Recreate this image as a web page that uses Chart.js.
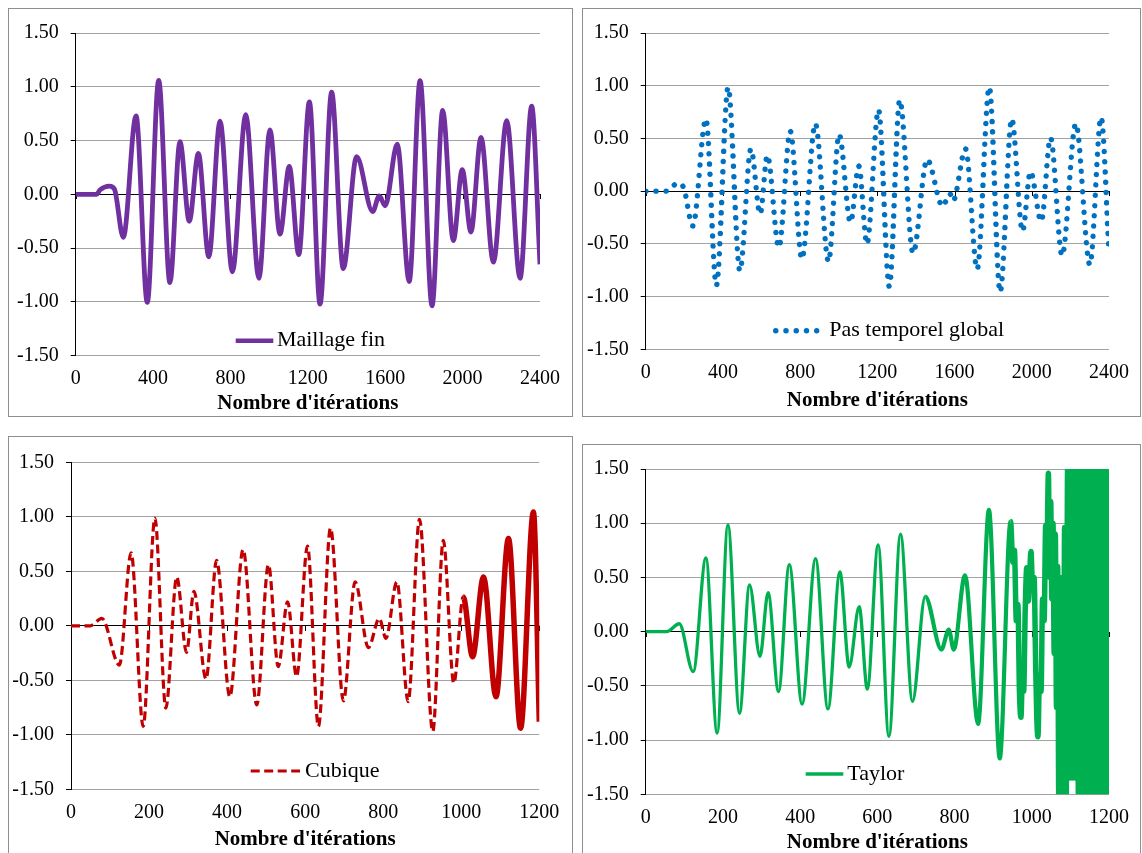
<!DOCTYPE html>
<html>
<head>
<meta charset="utf-8">
<script src="https://cdn.jsdelivr.net/npm/chart.js@4.4.1/dist/chart.umd.min.js"></script>
<style>
  body { margin: 0; background: #fff; width: 1142px; height: 853px; position: relative; overflow: hidden; }
  .panel { position: absolute; border: 1px solid #8e8e8e; box-sizing: border-box; background: #fff; }
  .panel canvas { position: absolute; left: 0; top: 0; }
</style>
</head>
<body>
<div class="panel" style="left:8px;top:8px;width:565px;height:409px"><canvas id="c1"></canvas></div>
<div class="panel" style="left:582px;top:8px;width:559px;height:409px"><canvas id="c2"></canvas></div>
<div class="panel" style="left:8px;top:436px;width:565px;height:420px"><canvas id="c3"></canvas></div>
<div class="panel" style="left:582px;top:444px;width:559px;height:412px"><canvas id="c4"></canvas></div>
<script>
// values (extrema of each curve)
var fineIter = [0, 108, 125, 174, 200, 246, 312, 370, 429, 487, 539, 587, 634, 688, 746, 810, 879, 947, 1004, 1056, 1104, 1153, 1208, 1263, 1323, 1383, 1452, 1535, 1569, 1600, 1662, 1724, 1780, 1842, 1897, 1952, 1998, 2043, 2095, 2159, 2228, 2297, 2357, 2400];
var fineVal = [0, 0, 0.04, 0.077, 0.05, -0.40, 0.73, -1.005, 1.06, -0.82, 0.49, -0.25, 0.38, -0.58, 0.68, -0.72, 0.74, -0.78, 0.60, -0.37, 0.26, -0.56, 0.86, -1.02, 0.95, -0.69, 0.35, -0.16, -0.015, -0.106, 0.466, -0.81, 1.058, -1.036, 0.78, -0.43, 0.23, -0.35, 0.53, -0.63, 0.686, -0.78, 0.82, -0.65];

var stepIter = [0, 106, 138, 168, 197, 244, 312, 366, 427, 488, 545, 593, 630, 690, 749, 809, 879, 947, 1002, 1061, 1104, 1146, 1206, 1262, 1316, 1385, 1458, 1538, 1576, 1592, 1657, 1717, 1780, 1836, 1896, 1952, 1993, 2049, 2097, 2157, 2228, 2301, 2359, 2400];
var stepVal = [0, 0, 0.046, 0.074, 0.03, -0.33, 0.685, -0.895, 0.984, -0.756, 0.40, -0.217, 0.339, -0.534, 0.568, -0.642, 0.639, -0.667, 0.537, -0.296, 0.237, -0.50, 0.771, -0.905, 0.864, -0.587, 0.30, -0.142, -0.025, -0.093, 0.40, -0.74, 0.987, -0.957, 0.685, -0.38, 0.185, -0.287, 0.506, -0.611, 0.639, -0.698, 0.70, -0.58];

var cubIter = [0, 49, 79, 124, 154, 185, 215, 243, 271, 296, 315, 346, 373, 407, 441, 476, 506, 531, 555, 578, 606, 634, 665, 698, 728, 762, 790, 807, 835, 864, 893, 927, 954, 981, 1005, 1029, 1057, 1089, 1121, 1152, 1185, 1200];
var cubVal = [0, 0, 0.068, -0.36, 0.67, -0.924, 0.988, -0.756, 0.448, -0.244, 0.317, -0.488, 0.60, -0.65, 0.70, -0.726, 0.56, -0.375, 0.22, -0.466, 0.732, -0.924, 0.897, -0.689, 0.403, -0.20, 0.068, -0.115, 0.403, -0.695, 0.976, -0.97, 0.784, -0.527, 0.265, -0.284, 0.448, -0.65, 0.80, -0.939, 1.043, -0.88];

var taylorIter = [0, 54, 87, 123, 156, 185, 213, 243, 269, 296, 317, 344, 372, 405, 440, 472, 503, 527, 553, 574, 602, 630, 660, 691, 724, 766, 785, 798, 827, 861, 889, 917, 945,
  951, 955, 960, 964, 968, 972, 976, 979, 983, 987, 991, 998, 1002, 1006, 1010, 1013, 1016, 1020, 1024, 1028, 1032, 1036, 1039, 1043,
  1046, 1049, 1052, 1055, 1058, 1061, 1064, 1067, 1070, 1073, 1076, 1079, 1082, 1085, 1089,
  1093, 1097, 1101, 1105, 1109, 1113, 1117, 1121, 1125, 1129, 1133, 1137, 1141, 1145, 1149, 1153, 1157, 1161, 1165, 1169, 1173, 1177, 1181, 1185, 1189, 1193, 1197, 1200];
var taylorVal = [0, 0, 0.073, -0.369, 0.679, -0.936, 0.984, -0.753, 0.43, -0.229, 0.359, -0.552, 0.618, -0.667, 0.673, -0.713, 0.551, -0.326, 0.231, -0.53, 0.80, -0.966, 0.90, -0.643, 0.323, -0.165, 0.018, -0.165, 0.52, -0.85, 1.124, -1.17, 1.015,
  0.64, 0.75, 0.1, 0.25, -0.55, -0.79, -0.35, -0.55, 0.2, 0.59, 0.28, 0.74, 0.4, 0.5, -0.3, -0.8, -0.97, -0.4, -0.55, 0.3, 0.1, 0.98, 0.7, 1.46,
  0.5, 1.2, 0.3, 1.0, -0.2, 0.9, -0.7, 0.6, -1.6, 0.3, -1.6, 0.5, -1.6, 0.96, -1.6,
  1.6, -1.35, 1.6, -1.35, 1.6, -1.35, 1.6, -1.6, 1.6, -1.6, 1.6, -1.6, 1.6, -1.6, 1.6, -1.6, 1.6, -1.6, 1.6, -1.6, 1.6, -1.6, 1.6, -1.6, 1.6, -1.6, 1.6, -1.6];

var yTicks = [-1.5, -1, -0.5, 0, 0.5, 1, 1.5];
var longTicks = [0, 400, 800, 1200, 1600, 2000, 2400];
var shortTicks = [0, 200, 400, 600, 800, 1000, 1200];

var FONT = 'Liberation Serif';

function points(xs, ys) {
  return xs.map(function(x, i) { return { x: x, y: ys[i] }; });
}

// legend sample + label drawn inside the plot
var inlineLegend = {
  id: 'inlineLegend',
  afterDraw: function(chart, args, o) {
    var ds = chart.data.datasets[0];
    var ctx = chart.ctx;
    ctx.save();
    ctx.strokeStyle = ds.borderColor;
    ctx.lineWidth = o.width;
    ctx.lineCap = o.cap || 'butt';
    ctx.setLineDash(o.dash || []);
    ctx.beginPath();
    ctx.moveTo(o.x, o.y);
    ctx.lineTo(o.x + o.len, o.y);
    ctx.stroke();
    ctx.setLineDash([]);
    ctx.fillStyle = '#000';
    ctx.font = '22px "' + FONT + '"';
    ctx.textBaseline = 'middle';
    ctx.fillText(ds.label, o.x + o.len + o.gap, o.y);
    ctx.restore();
  }
};

// little tick marks on the zero line
var zeroTicks = {
  id: 'zeroTicks',
  beforeDatasetsDraw: function(chart) {
    var xs = chart.scales.x, ys = chart.scales.y, ctx = chart.ctx;
    var y0 = Math.round(ys.getPixelForValue(0));
    ctx.save();
    ctx.strokeStyle = '#000';
    ctx.lineWidth = 1;
    xs.ticks.forEach(function(t) {
      var px = Math.round(xs.getPixelForValue(t.value)) + 0.5;
      ctx.beginPath();
      ctx.moveTo(px, y0);
      ctx.lineTo(px, y0 + 5);
      ctx.stroke();
    });
    ctx.restore();
  }
};

function makeChart(p) {
  var canvas = document.getElementById(p.id);
  var inL = p.box[0] + 1, inT = p.box[1] + 1;
  var w = p.box[2] - 2, h = p.box[3] - 2;
  canvas.width = w; canvas.height = h;
  canvas.style.width = w + 'px'; canvas.style.height = h + 'px';
  var ds = Object.assign({
    label: p.label,
    data: points(p.xs, p.ys),
    borderColor: p.color,
    pointRadius: 0,
    fill: false,
    clip: 0,
    cubicInterpolationMode: 'monotone'
  }, p.style);

  new Chart(canvas, {
    type: 'line',
    data: { datasets: [ds] },
    options: {
      responsive: false,
      devicePixelRatio: 1,
      animation: false,
      events: [],
      layout: { padding: { left: 0, bottom: 0, top: p.plot[1] - inT, right: (inL + w) - p.plot[2] } },
      plugins: {
        legend: { display: false },
        tooltip: { enabled: false },
        inlineLegend: p.legend
      },
      scales: {
        x: {
          type: 'linear',
          min: 0, max: p.xTicks[p.xTicks.length - 1],
          afterBuildTicks: function(s) { s.ticks = p.xTicks.map(function(v) { return { value: v }; }); },
          afterFit: function(s) { s.height = (inT + h) - p.plot[3]; },
          grid: { display: false, drawTicks: false },
          border: { display: false },
          ticks: {
            color: '#000', padding: 11, maxRotation: 0,
            font: { family: FONT, size: 20, lineHeight: 1.2 },
            callback: function(v) { return String(v); }
          },
          title: {
            display: true, text: "Nombre d'itérations", color: '#000',
            font: { family: FONT, size: 21, weight: 'bold', lineHeight: 1 },
            padding: { top: 0, bottom: p.titlePad }
          }
        },
        y: {
          min: -1.5, max: 1.5,
          afterBuildTicks: function(s) { s.ticks = yTicks.map(function(v) { return { value: v }; }); },
          afterFit: function(s) { s.width = p.plot[0] - inL; },
          grid: {
            color: function(c) { return c.tick && c.tick.value === 0 ? '#000' : '#a3a3a3'; },
            tickColor: '#000', tickLength: 5, lineWidth: 1
          },
          border: { color: '#000', width: 1 },
          ticks: {
            color: '#000', padding: 12,
            font: { family: FONT, size: 20 },
            callback: function(v) { return v.toFixed(2); }
          }
        }
      }
    },
    plugins: [zeroTicks, inlineLegend]
  });
}

// where the trace turns jittery it is drawn as a thicker solid band
function thickFrom(steps) {
  function pick(c) {
    var hit = null;
    steps.forEach(function(s) { if (c.p0.parsed.x >= s.from) hit = s; });
    return hit;
  }
  return {
    borderWidth: function(c) { var s = pick(c); return s ? s.width : undefined; },
    borderDash: function(c) { var s = pick(c); return s ? [] : undefined; }
  };
}

makeChart({
  id: 'c1', box: [8, 8, 565, 409], plot: [75.7, 27.3, 540, 355.7], titlePad: 1.5,
  xTicks: longTicks, xs: fineIter, ys: fineVal, label: 'Maillage fin', color: '#7030A0',
  style: { borderWidth: 4.8 },
  legend: { x: 226.7, y: 331.7, len: 37.6, gap: 3.6, width: 4.5 }
});

makeChart({
  id: 'c2', box: [582, 8, 559, 409], plot: [645.7, 25.7, 1115.3, 349.3], titlePad: 4.5,
  xTicks: longTicks, xs: stepIter, ys: stepVal, label: 'Pas temporel global', color: '#0070C0',
  style: { borderWidth: 5.4, borderDash: [0.1, 10.15], borderCapStyle: 'round' },
  legend: { x: 192.7, y: 321.7, len: 41, gap: 12.6, width: 5.4, dash: [0.1, 10.15], cap: 'round' }
});

makeChart({
  id: 'c3', box: [8, 436, 565, 420], plot: [71, 462.3, 539.3, 789.3], titlePad: 4.5,
  xTicks: shortTicks, xs: cubIter, ys: cubVal, label: 'Cubique', color: '#C00000',
  style: { borderWidth: 3.2, borderDash: [9, 4.5], segment: thickFrom([{ from: 995, width: 5.5 }]) },
  legend: { x: 241.7, y: 334, len: 49.3, gap: 5, width: 3.2, dash: [9, 4.5] }
});

makeChart({
  id: 'c4', box: [582, 444, 559, 412], plot: [645.7, 466, 1116, 794.3], titlePad: 1.5,
  xTicks: shortTicks, xs: taylorIter, ys: taylorVal, label: 'Taylor', color: '#00B050',
  style: { borderWidth: 3.3, segment: thickFrom([{ from: 700, width: 4.2 }, { from: 945, width: 5.5 }]) },
  legend: { x: 222.7, y: 329, len: 37.6, gap: 4, width: 3.3 }
});
</script>
</body>
</html>
